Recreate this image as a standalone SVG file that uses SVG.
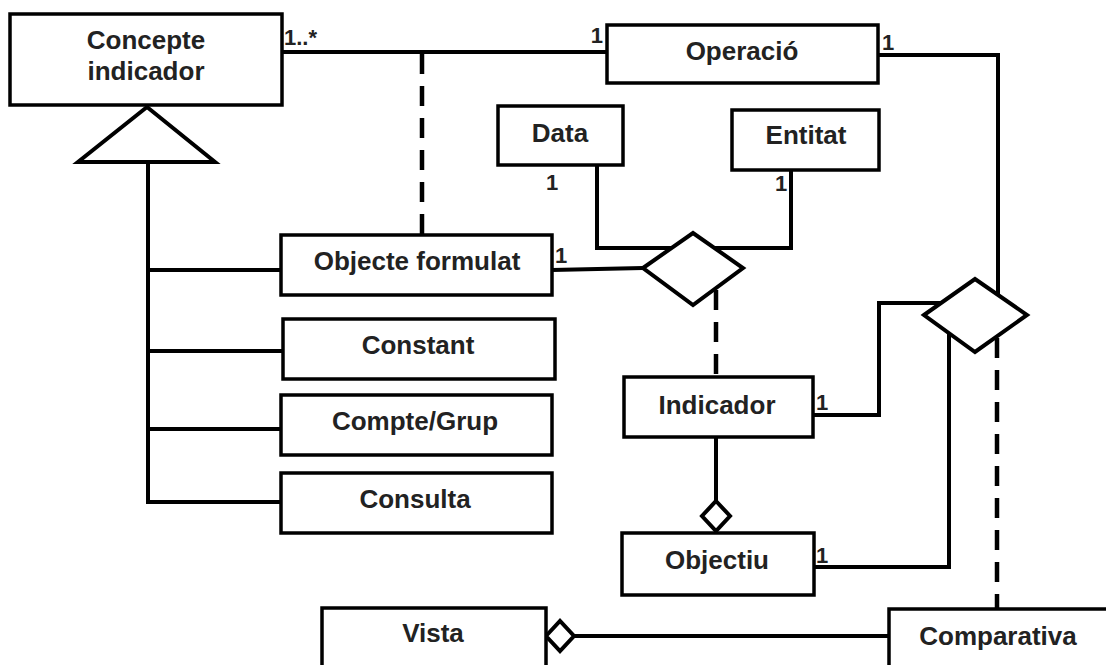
<svg xmlns="http://www.w3.org/2000/svg" width="1106" height="665" viewBox="0 0 1106 665">
<style>
.box{fill:#fff;stroke:#000;stroke-width:3.5}
.lbl{font-family:"Liberation Sans",Arial,sans-serif;font-weight:bold;font-size:26px;fill:#222;text-anchor:middle}
.mult{font-family:"Liberation Sans",Arial,sans-serif;font-weight:bold;font-size:22px;fill:#222}
.ln{fill:none;stroke:#000;stroke-width:4}
.dash{fill:none;stroke:#000;stroke-width:4.5;stroke-dasharray:20 12}
.dia{fill:#fff;stroke:#000;stroke-width:4}
</style>
<rect width="1106" height="665" fill="#fff"/>
<g id="connectors">
  <path class="ln" d="M282,52 H607"/>
  <path class="dash" d="M422,54 V235"/>
  <path class="ln" d="M878,55 H998 V296"/>
  <path class="ln" d="M597,165 V248 H791 V170"/>
  <path class="ln" d="M552,270 L643,268"/>
  <path class="dash" d="M716,290 V377"/>
  <path class="ln" d="M716,437 V501"/>
  <path class="ln" d="M813,415 H879 V303 H941"/>
  <path class="ln" d="M814,567 H949 V333"/>
  <path class="dash" d="M997,338 V609"/>
  <path class="ln" d="M573,636 H889"/>
  <path class="ln" d="M148,162 V502 H281 M148,270 H281 M148,351 H283 M148,429 H281"/>
  <polygon class="dia" points="147,107 215,162 78,162"/>
  <polygon class="dia" points="716,501 730,516 716,531 702,516"/>
  <polygon class="dia" points="546,636 560,621 574,636 560,651"/>
</g>
<g id="concepte-indicador">
  <rect class="box" x="10" y="14" width="272" height="91"/>
  <text class="lbl" x="146" y="49">Concepte</text>
  <text class="lbl" x="146" y="80">indicador</text>
</g>
<g id="operacio">
  <rect class="box" x="607" y="25" width="271" height="58"/>
  <text class="lbl" x="742" y="60">Operació</text>
</g>
<g id="data">
  <rect class="box" x="498" y="106" width="125" height="59"/>
  <text class="lbl" x="560" y="142">Data</text>
</g>
<g id="entitat">
  <rect class="box" x="732" y="110" width="147" height="60"/>
  <text class="lbl" x="806" y="144">Entitat</text>
</g>
<g id="objecte-formulat">
  <rect class="box" x="281" y="235" width="271" height="60"/>
  <text class="lbl" x="417" y="270">Objecte formulat</text>
</g>
<g id="constant">
  <rect class="box" x="283" y="319" width="272" height="60"/>
  <text class="lbl" x="418" y="354">Constant</text>
</g>
<g id="compte-grup">
  <rect class="box" x="281" y="395" width="271" height="60"/>
  <text class="lbl" x="415" y="430">Compte/Grup</text>
</g>
<g id="consulta">
  <rect class="box" x="281" y="473" width="271" height="60"/>
  <text class="lbl" x="415" y="508">Consulta</text>
</g>
<g id="assoc-operacio">
  <polygon class="dia" points="643,268 693,233 743,268 693,305"/>
</g>
<g id="assoc-comparativa">
  <polygon class="dia" points="924,315 975,279 1027,315 975,352"/>
</g>
<g id="indicador">
  <rect class="box" x="624" y="377" width="189" height="60"/>
  <text class="lbl" x="717" y="414">Indicador</text>
</g>
<g id="objectiu">
  <rect class="box" x="622" y="533" width="192" height="62"/>
  <text class="lbl" x="717" y="569">Objectiu</text>
</g>
<g id="vista">
  <rect class="box" x="322" y="608" width="224" height="80"/>
  <text class="lbl" x="433" y="642">Vista</text>
</g>
<g id="comparativa">
  <rect class="box" x="889" y="609" width="240" height="80"/>
  <text class="lbl" x="998" y="645">Comparativa</text>
</g>
<g id="multiplicities">
  <text class="mult" x="284" y="45">1..*</text>
  <text class="mult" x="603" y="43" text-anchor="end">1</text>
  <text class="mult" x="882" y="50">1</text>
  <text class="mult" x="546" y="190">1</text>
  <text class="mult" x="775" y="191">1</text>
  <text class="mult" x="555" y="263">1</text>
  <text class="mult" x="816" y="410">1</text>
  <text class="mult" x="816" y="563">1</text>
</g>
</svg>
